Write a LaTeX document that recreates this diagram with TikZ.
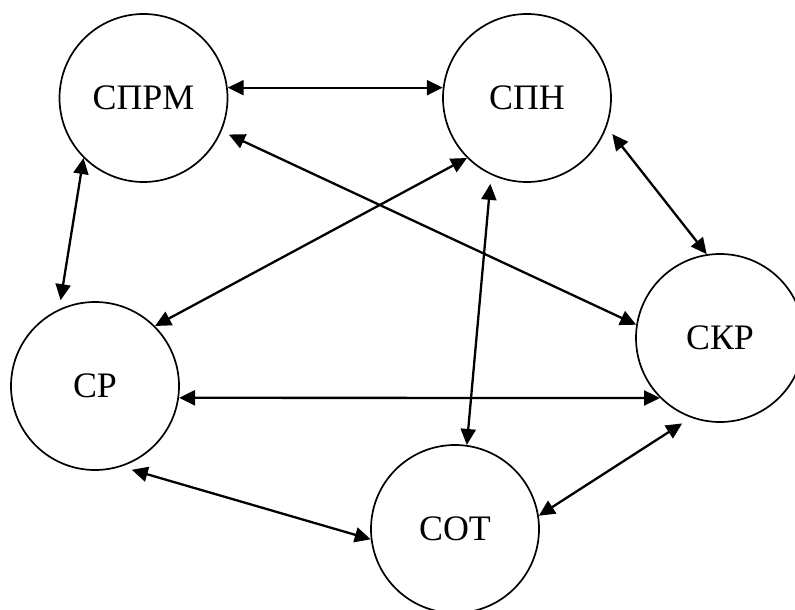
\documentclass[tikz,border=0pt]{standalone}
\usepackage{fontspec}
\setmainfont{Liberation Serif}
\usetikzlibrary{arrows.meta}

\tikzset{
  unit/.style={circle, draw, line width=1.7bp, minimum size=168bp, inner sep=0pt,
    font=\fontsize{36}{40}\selectfont},
  link/.style={{Triangle[length=16bp,width=15bp]}-{Triangle[length=16bp,width=15bp]},
    line width=2.3bp}
}

\begin{document}
\begin{tikzpicture}[x=1bp, y=-1bp]
  \useasboundingbox (0,0) rectangle (795,610);

  % subsystems
  \node[unit] (sprm) at (143.5,98) {СПРМ};
  \node[unit] (spn)  at (527,98)   {СПН};
  \node[unit] (skr)  at (720,338)  {СКР};
  \node[unit] (sr)   at (95,386)   {СР};
  \node[unit] (sot)  at (455,529)  {СОТ};

  % two-way links
  \draw[link] (sprm.7) -- (spn.173);
  \draw[link, shorten <=8bp] (sprm.-23) -- (skr.171);
  \draw[link] (spn.225) -- (sr.45);
  \draw[link, shorten <=9bp] (spn.-20) -- (skr.99);
  \draw[link, shorten <=9bp] (spn.245) -- (sot.82);
  \draw[link, shorten >=9bp] (sprm.225) -- (sr.115);
  \draw[link] (sr.-8) -- (skr.-135);
  \draw[link, shorten <=11bp] (sr.-72) -- (sot.187);
  \draw[link, shorten >=10.5bp] (sot.9) -- (skr.-110);
\end{tikzpicture}
\end{document}
